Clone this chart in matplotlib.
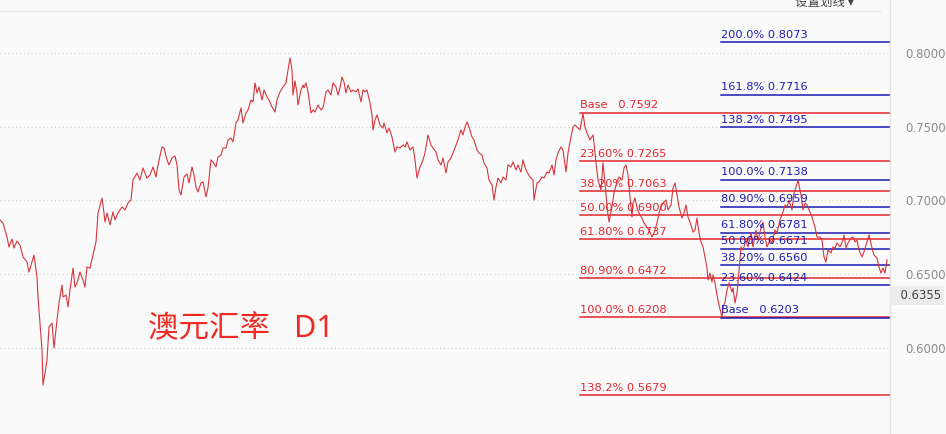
import matplotlib
matplotlib.use('Agg')
import matplotlib.pyplot as plt
import matplotlib.transforms as mtransforms

plt.rcParams['font.family'] = ['DejaVu Sans', 'Noto Sans CJK SC']

# AUD/USD daily close (day index, close)
days = [0, 3, 7, 9, 12, 14, 17, 20, 23, 27, 29, 32, 34, 37, 38, 40, 42, 43, 45, 47,
        49, 52, 54, 57, 59, 62, 63, 66, 68, 70, 73, 75, 77, 80, 83, 85, 87, 90, 93, 96,
        98, 102, 103, 105, 107, 110, 113, 115, 118, 122, 125, 128, 131, 133, 137, 140, 143, 147, 150, 153,
        156, 158, 162, 164, 167, 169, 172, 175, 177, 179, 181, 184, 187, 189, 192, 194, 196, 198, 201, 203,
        206, 208, 211, 213, 216, 218, 221, 223, 226, 228, 231, 233, 236, 238, 241, 243, 246, 248, 251, 253,
        255, 257, 259, 262, 264, 267, 269, 272, 275, 277, 280, 283, 286, 288, 290, 292, 293, 295, 297, 298,
        301, 303, 304, 306, 308, 311, 313, 315, 318, 321, 323, 326, 328, 331, 333, 336, 338, 340, 342, 344,
        346, 348, 351, 353, 356, 358, 361, 363, 365, 367, 370, 372, 373, 375, 377, 380, 383, 384, 387, 389,
        392, 395, 397, 400, 403, 405, 407, 410, 413, 415, 417, 420, 423, 425, 428, 431, 433, 436, 438, 441,
        443, 446, 448, 451, 453, 456, 458, 461, 463, 465, 467, 469, 472, 474, 477, 479, 482, 484, 487, 489,
        492, 494, 496, 498, 501, 503, 506, 508, 511, 513, 516, 518, 521, 523, 525, 527, 530, 533, 534, 537,
        539, 542, 544, 547, 549, 552, 554, 556, 558, 561, 563, 566, 568, 570, 573, 575, 577, 580, 583, 585,
        587, 590, 593, 594, 596, 598, 601, 603, 605, 607, 609, 612, 614, 617, 619, 622, 624, 626, 628, 630,
        632, 633, 635, 637, 639, 642, 644, 647, 649, 652, 654, 657, 659, 661, 663, 666, 668, 671, 673, 675,
        677, 679, 682, 684, 686, 688, 690, 693, 695, 697, 699, 701, 703, 705, 707, 708, 710, 712, 713, 715,
        717, 719, 722, 723, 725, 727, 729, 732, 733, 735, 737, 738, 741, 743, 746, 748, 751, 753, 756, 758,
        761, 763, 765, 767, 770, 772, 775, 777, 780, 783, 785, 787, 789, 792, 794, 796, 798, 799, 801, 803,
        805, 807, 810, 812, 815, 817, 820, 822, 824, 826, 828, 831, 833, 835, 837, 840, 843, 844, 846, 848,
        851, 853, 855, 857, 859, 862, 864, 867, 869, 872, 874, 877, 879, 881, 883, 885, 887]
close = [0.6868, 0.6847, 0.6752, 0.6685, 0.6739, 0.6678, 0.6725, 0.6698, 0.6617, 0.6583,
         0.6515, 0.6583, 0.6630, 0.6481, 0.6346, 0.6169, 0.5986, 0.5749, 0.5830, 0.5919,
         0.6142, 0.6169, 0.6000, 0.6190, 0.6305, 0.6427, 0.6346, 0.6359, 0.6278, 0.6393,
         0.6542, 0.6413, 0.6441, 0.6515, 0.6461, 0.6413, 0.6549, 0.6542, 0.6630, 0.6719,
         0.6915, 0.7017, 0.6969, 0.6854, 0.6915, 0.6834, 0.6922, 0.6868, 0.6915, 0.6956,
         0.6936, 0.6983, 0.7003, 0.7139, 0.7186, 0.7139, 0.7220, 0.7152, 0.7173, 0.7227,
         0.7159, 0.7241, 0.7363, 0.7356, 0.7275, 0.7241, 0.7288, 0.7302, 0.7241, 0.7071,
         0.7037, 0.7159, 0.7180, 0.7119, 0.7227, 0.7173, 0.7091, 0.7058, 0.7119, 0.7125,
         0.7024, 0.7085, 0.7275, 0.7261, 0.7227, 0.7295, 0.7308, 0.7356, 0.7356, 0.7410,
         0.7424, 0.7397, 0.7525, 0.7546, 0.7627, 0.7525, 0.7593, 0.7614, 0.7681, 0.7668,
         0.7797, 0.7729, 0.7769, 0.7681, 0.7749, 0.7702, 0.7681, 0.7634, 0.7600, 0.7681,
         0.7736, 0.7769, 0.7797, 0.7885, 0.7966, 0.7885, 0.7715, 0.7810, 0.7729, 0.7647,
         0.7749, 0.7783, 0.7763, 0.7797, 0.7736, 0.7593, 0.7614, 0.7600, 0.7647, 0.7614,
         0.7627, 0.7736, 0.7749, 0.7715, 0.7797, 0.7769, 0.7715, 0.7763, 0.7837, 0.7803,
         0.7729, 0.7783, 0.7736, 0.7749, 0.7736, 0.7756, 0.7668, 0.7749, 0.7736, 0.7749,
         0.7661, 0.7580, 0.7478, 0.7546, 0.7580, 0.7512, 0.7491, 0.7525, 0.7458, 0.7491,
         0.7430, 0.7329, 0.7363, 0.7356, 0.7376, 0.7363, 0.7397, 0.7342, 0.7363, 0.7275,
         0.7152, 0.7227, 0.7275, 0.7322, 0.7444, 0.7376, 0.7356, 0.7329, 0.7275, 0.7241,
         0.7288, 0.7186, 0.7261, 0.7288, 0.7322, 0.7376, 0.7410, 0.7478, 0.7444, 0.7498,
         0.7532, 0.7498, 0.7430, 0.7410, 0.7342, 0.7322, 0.7308, 0.7254, 0.7220, 0.7139,
         0.7105, 0.7003, 0.7091, 0.7152, 0.7119, 0.7159, 0.7139, 0.7241, 0.7227, 0.7261,
         0.7207, 0.7241, 0.7193, 0.7275, 0.7227, 0.7193, 0.7159, 0.7139, 0.7003, 0.7119,
         0.7125, 0.7159, 0.7152, 0.7193, 0.7186, 0.7241, 0.7173, 0.7275, 0.7322, 0.7363,
         0.7342, 0.7193, 0.7322, 0.7397, 0.7498, 0.7512, 0.7498, 0.7478, 0.7592, 0.7498,
         0.7458, 0.7410, 0.7444, 0.7390, 0.7254, 0.7139, 0.7071, 0.7254, 0.7119, 0.6956,
         0.6854, 0.6956, 0.7051, 0.7125, 0.7159, 0.7139, 0.7220, 0.7241, 0.7173, 0.7024,
         0.6888, 0.6983, 0.7017, 0.6949, 0.6915, 0.6881, 0.6847, 0.6820, 0.6800, 0.6752,
         0.6780, 0.6847, 0.6915, 0.6956, 0.6983, 0.7003, 0.6936, 0.6969, 0.7085, 0.7119,
         0.7037, 0.6956, 0.6881, 0.6915, 0.6969, 0.6888, 0.6854, 0.6786, 0.6800, 0.6881,
         0.6780, 0.6719, 0.6685, 0.6617, 0.6542, 0.6461, 0.6508, 0.6447, 0.6495, 0.6441,
         0.6359, 0.6291, 0.6208, 0.6278, 0.6312, 0.6393, 0.6441, 0.6380, 0.6407, 0.6305,
         0.6373, 0.6441, 0.6685, 0.6664, 0.6732, 0.6685, 0.6780, 0.6685, 0.6800, 0.6732,
         0.6813, 0.6854, 0.6752, 0.6685, 0.6732, 0.6712, 0.6800, 0.6780, 0.6868, 0.6922,
         0.6969, 0.6956, 0.7003, 0.6936, 0.7051, 0.7091, 0.7138, 0.7105, 0.7037, 0.6936,
         0.6983, 0.6969, 0.6922, 0.6888, 0.6820, 0.6752, 0.6752, 0.6732, 0.6617, 0.6583,
         0.6664, 0.6644, 0.6685, 0.6678, 0.6712, 0.6685, 0.6732, 0.6766, 0.6678, 0.6712,
         0.6746, 0.6752, 0.6719, 0.6732, 0.6664, 0.6617, 0.6651, 0.6719, 0.6766, 0.6678,
         0.6630, 0.6610, 0.6549, 0.6508, 0.6542, 0.6508, 0.6597]

# fibonacci set 1 (red, drawn from the high)
red_names = ['Base   ', '23.60% ', '38.20% ', '50.00% ', '61.80% ', '80.90% ', '100.0% ', '138.2% ']
red_levels = [0.7592, 0.7265, 0.7063, 0.6900, 0.6737, 0.6472, 0.6208, 0.5679]
red_start = 580

# fibonacci set 2 (blue, drawn from the low)
blue_names = ['200.0% ', '161.8% ', '138.2% ', '100.0% ', '80.90% ', '61.80% ', '50.00% ',
              '38.20% ', '23.60% ', 'Base   ']
blue_levels = [0.8073, 0.7716, 0.7495, 0.7138, 0.6959, 0.6781, 0.6671, 0.6560, 0.6424, 0.6203]
blue_start = 721

yticks = [0.6000, 0.6500, 0.7000, 0.7500, 0.8000]
last_price = 0.6355

RED = '#e3262c'
BLUE = '#1c1cb4'

fig = plt.figure(figsize=(9.46, 4.34), dpi=100, facecolor='#fafafa')
ax = fig.add_axes([0, 0, 890 / 946, 1])
ax.set_facecolor('#fafafa')
ax.set_xlim(0, 890)
ax.set_ylim(0.5417, 0.8359)

for v in yticks:
    ax.axhline(v, color='#cfcfcf', lw=0.8, ls=(0, (1, 2.5)), zorder=0)

ax.plot(days, close, color='#d6363c', lw=0.8, zorder=3)

for name, v in zip(red_names, red_levels):
    ax.plot([red_start, 890], [v, v], color=RED, lw=1.1, zorder=2)
    ax.text(red_start, v + 0.0018, name + '%.4f' % v, color=RED, fontsize=8.2,
            ha='left', va='bottom', zorder=4)

for name, v in zip(blue_names, blue_levels):
    ax.plot([blue_start, 890], [v, v], color=BLUE, lw=1.1, zorder=2)
    ax.text(blue_start, v + 0.0018, name + '%.4f' % v, color=BLUE, fontsize=8.2,
            ha='left', va='bottom', zorder=4)

ax.text(148, 0.6128, '澳元汇率   D1', color='#ee2a24', fontsize=22,
        family=['Noto Sans', 'Noto Sans CJK SC'], ha='left', va='center')

# right price scale
ax.yaxis.tick_right()
ax.set_yticks(yticks)
ax.set_yticklabels(['%.4f' % v for v in yticks])
ax.tick_params(axis='y', length=0, pad=11, labelsize=8.4, labelcolor='#8a8a8a')
ax.set_xticks([])
for s in ['left', 'top', 'bottom']:
    ax.spines[s].set_visible(False)
ax.spines['right'].set_color('#e2e2e2')
ax.spines['right'].set_linewidth(1.0)

trans = mtransforms.blended_transform_factory(ax.transAxes, ax.transData)
ax.text(1.003, last_price, '  %.4f' % last_price, transform=trans, color='#444444',
        fontsize=8.4, ha='left', va='center', zorder=5, clip_on=False,
        bbox=dict(boxstyle='square,pad=0.25', fc='#ececec', ec='none'))

# top toolbar line and cut-off button text
ax.plot([0, 880], [0.8284, 0.8284], color='#e6e6e6', lw=1.0, clip_on=False)
fig.text(795 / 946, 1.0 - 2 / 434, '设置划线 ▾', color='#444444', fontsize=9,
         family=['Noto Sans CJK SC', 'DejaVu Sans'], ha='left', va='center')

fig.savefig('out.png', dpi=100, facecolor=fig.get_facecolor())
